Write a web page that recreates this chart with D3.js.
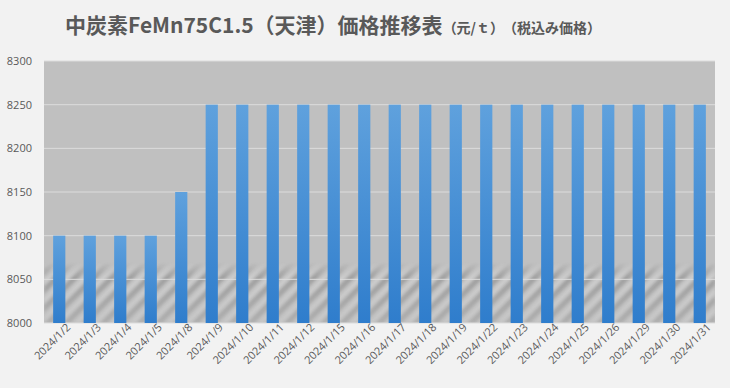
<!DOCTYPE html>
<html>
<head>
<meta charset="utf-8">
<script src="https://cdn.jsdelivr.net/npm/d3@7"></script>
<style>
body{margin:0;background:#f2f2f2;}
svg{display:block;}
</style>
</head>
<body>
<svg></svg>
<script>
let dates=['2024/1/2','2024/1/3','2024/1/4','2024/1/5','2024/1/8','2024/1/9','2024/1/10','2024/1/11','2024/1/12','2024/1/15','2024/1/16','2024/1/17','2024/1/18','2024/1/19','2024/1/22','2024/1/23','2024/1/24','2024/1/25','2024/1/26','2024/1/29','2024/1/30','2024/1/31'];
let prices=[8100,8100,8100,8100,8150,8250,8250,8250,8250,8250,8250,8250,8250,8250,8250,8250,8250,8250,8250,8250,8250,8250];
let yTicks=[8000,8050,8100,8150,8200,8250,8300];

let width=730;
let height=388;
let plotLeft=44,plotRight=715,plotTop=61,plotBottom=323;

const svg=d3.select('svg')
  .attr('width',width)
  .attr('height',height)
  .style('font-family','"Noto Sans CJK JP", "Noto Sans", sans-serif');

svg.append('rect').attr('width',width).attr('height',height).attr('fill','#f2f2f2');

let defs=svg.append('defs');
let grad=defs.append('linearGradient').attr('id','barGrad').attr('x1',0).attr('y1',0).attr('x2',0).attr('y2',1);
grad.append('stop').attr('offset','0%').attr('stop-color','#5fa1dd');
grad.append('stop').attr('offset','100%').attr('stop-color','#2f7dcc');

let pat=defs.append('pattern').attr('id','stripes').attr('patternUnits','userSpaceOnUse')
  .attr('width',13).attr('height',13).attr('patternTransform','rotate(45)');
pat.append('rect').attr('width',5).attr('height',13).attr('fill','#7e7e7e');
pat.append('rect').attr('x',8).attr('width',3).attr('height',13).attr('fill','#e0e0e0');
defs.append('filter').attr('id','blur').append('feGaussianBlur').attr('stdDeviation',1.4);
let fade=defs.append('linearGradient').attr('id','fade').attr('x1',0).attr('y1',0).attr('x2',0).attr('y2',1);
fade.append('stop').attr('offset','0%').attr('stop-color','white').attr('stop-opacity',0);
fade.append('stop').attr('offset','25%').attr('stop-color','white').attr('stop-opacity',0.8);
fade.append('stop').attr('offset','100%').attr('stop-color','white').attr('stop-opacity',0.45);
let mask=defs.append('mask').attr('id','fadeMask');
mask.append('rect').attr('x',plotLeft).attr('y',262).attr('width',plotRight-plotLeft).attr('height',plotBottom-262).attr('fill','url(#fade)');

let xScale=d3.scaleBand().domain(dates).range([plotLeft,plotRight]).paddingInner(0.6).paddingOuter(0.3);
let yScale=d3.scaleLinear().domain([8000,8300]).range([plotBottom,plotTop]);

// plot area
svg.append('rect').attr('x',plotLeft).attr('y',plotTop).attr('width',plotRight-plotLeft).attr('height',plotBottom-plotTop).attr('fill','#c0c0c0');
svg.append('g').attr('mask','url(#fadeMask)')
  .append('rect').attr('x',plotLeft).attr('y',262).attr('width',plotRight-plotLeft).attr('height',plotBottom-262)
  .attr('fill','url(#stripes)').attr('filter','url(#blur)').attr('opacity',0.6);

// grid
svg.append('g').selectAll('line').data(yTicks).enter().append('line')
  .attr('x1',plotLeft).attr('x2',plotRight)
  .attr('y1',d=>yScale(d)).attr('y2',d=>yScale(d))
  .attr('stroke','#dcdcdc').attr('stroke-width',1);

// y axis
let yAxis=d3.axisLeft(yScale).tickValues(yTicks).tickFormat(d3.format('d')).tickSize(0).tickPadding(12);
let yg=svg.append('g').attr('transform','translate('+plotLeft+',0)').call(yAxis);
yg.select('.domain').remove();
yg.selectAll('text').attr('fill','#595959').style('font-size','11px').style('font-family','"Open Sans", sans-serif');

// bars
svg.selectAll('.bar').data(prices).enter().append('rect')
  .attr('class','bar')
  .attr('x',(d,i)=>xScale(dates[i]))
  .attr('width',xScale.bandwidth())
  .attr('y',d=>yScale(d))
  .attr('height',d=>plotBottom-yScale(d))
  .attr('fill','url(#barGrad)');

// x axis
let xAxis=d3.axisBottom(xScale).tickSize(0).tickPadding(6);
let xg=svg.append('g').attr('transform','translate(0,'+plotBottom+')').call(xAxis);
xg.select('.domain').remove();
xg.selectAll('text')
  .attr('fill','#595959')
  .style('font-size','11px')
  .style('font-family','"Open Sans", sans-serif')
  .style('text-anchor','end')
  .attr('dx','5')
  .attr('dy','6')
  .attr('transform','rotate(-45)');

// title
let title=svg.append('text').attr('x',65).attr('y',33).attr('fill','#595959');
title.append('tspan').text('中炭素FeMn75C1.5（天津）価格推移表').style('font-size','21px').style('font-weight','bold');
title.append('tspan').text('（元/ｔ）').style('font-size','14px').style('font-weight','bold');
title.append('tspan').text('（税込み価格）').attr('dx',6).style('font-size','14px').style('font-weight','bold');
</script>
</body>
</html>
